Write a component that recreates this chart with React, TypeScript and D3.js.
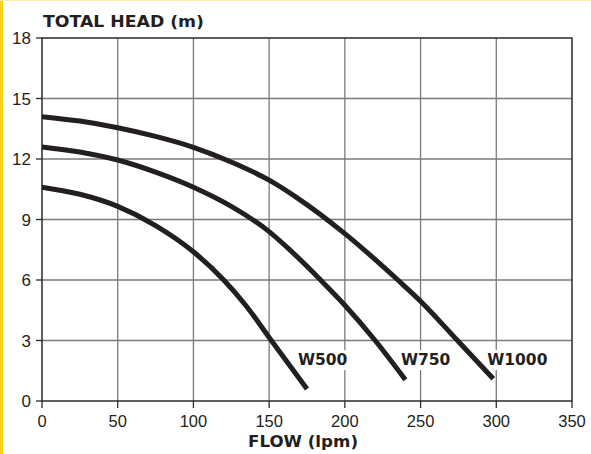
import React, { useRef, useEffect } from 'react';
import * as d3 from 'd3';

// pump curves (flow lpm, head m)
const w500 = [[0, 10.6], [25, 10.25], [50, 9.65], [75, 8.7], [100, 7.4], [120, 6.0], [135, 4.7], [150, 3.15], [175, 0.6]];
const w750 = [[0, 12.6], [25, 12.35], [50, 11.95], [75, 11.35], [100, 10.6], [125, 9.65], [150, 8.4], [165, 7.4], [184, 6.0], [200, 4.75], [220, 3.0], [240, 1.05]];
const w1000 = [[0, 14.1], [25, 13.88], [50, 13.55], [75, 13.12], [100, 12.58], [125, 11.85], [150, 10.95], [168, 10.1], [200, 8.3], [235, 6.0], [250, 4.95], [275, 2.95], [298, 1.1]];

const seriesNames = ['W500', 'W750', 'W1000'];
const seriesData = [w500, w750, w1000];
const labelFlow = [169, 237, 294];
const labelHead = [1.78, 1.78, 1.78];

const xTicks = [0, 50, 100, 150, 200, 250, 300, 350];
const yTicks = [0, 3, 6, 9, 12, 15, 18];

const W = 591;
const H = 454;

const App: React.FC = () => {
  const svgRef = useRef<SVGSVGElement>(null);

  useEffect(() => {
    if (!svgRef.current) return;
    const svg = d3.select(svgRef.current);
    svg.selectAll('*').remove();

    const margin = { top: 38, right: 19, bottom: 53, left: 42 };
    const x = d3.scaleLinear().domain([0, 350]).range([margin.left, W - margin.right]);
    const y = d3.scaleLinear().domain([0, 18]).range([H - margin.bottom, margin.top]);

    svg.append('rect').attr('width', W).attr('height', H).attr('fill', '#fff');
    // yellow page edge
    svg.append('rect').attr('x', 0).attr('y', 0).attr('width', 3).attr('height', H).attr('fill', '#f7d417');
    svg.append('rect').attr('x', 0).attr('y', 0).attr('width', W).attr('height', 1).attr('fill', '#fdf0a6');

    const font = "'Liberation Sans', Arial, sans-serif";
    const bold = "'DejaVu Sans', sans-serif";

    // grid
    const grid = svg.append('g').attr('stroke', '#7a7a7a').attr('stroke-width', 1.3);
    xTicks.slice(1, -1).forEach(t => {
      grid.append('line').attr('x1', x(t)).attr('x2', x(t)).attr('y1', y(0)).attr('y2', y(18));
    });
    yTicks.slice(1, -1).forEach(t => {
      grid.append('line').attr('x1', x(0)).attr('x2', x(350)).attr('y1', y(t)).attr('y2', y(t));
    });

    // frame
    svg.append('rect')
      .attr('x', x(0)).attr('y', y(18))
      .attr('width', x(350) - x(0)).attr('height', y(0) - y(18))
      .attr('fill', 'none').attr('stroke', '#2a2a2a').attr('stroke-width', 1.5);

    // ticks + labels
    const axis = svg.append('g').attr('stroke', '#2a2a2a').attr('stroke-width', 1.3);
    yTicks.forEach(t => {
      axis.append('line').attr('x1', x(0) - 6).attr('x2', x(0)).attr('y1', y(t)).attr('y2', y(t));
      svg.append('text')
        .attr('x', 31).attr('y', y(t)).attr('dy', '0.36em')
        .attr('text-anchor', 'end')
        .attr('font-family', font).attr('font-size', 17).attr('fill', '#231f20')
        .text(t);
    });
    xTicks.forEach(t => {
      axis.append('line').attr('x1', x(t)).attr('x2', x(t)).attr('y1', y(0)).attr('y2', y(0) + 7);
      svg.append('text')
        .attr('x', x(t)).attr('y', 426.5)
        .attr('text-anchor', 'middle')
        .attr('font-family', font).attr('font-size', 16.5).attr('fill', '#231f20')
        .text(t);
    });

    svg.append('text')
      .attr('x', 43).attr('y', 26.5)
      .attr('font-family', bold).attr('font-size', 16).attr('font-weight', 'bold').attr('fill', '#231f20')
      .attr('textLength', 161).attr('lengthAdjust', 'spacingAndGlyphs')
      .text('TOTAL HEAD (m)');
    svg.append('text')
      .attr('x', 248).attr('y', 446.5)
      .attr('font-family', bold).attr('font-size', 15.5).attr('font-weight', 'bold').attr('fill', '#231f20')
      .attr('textLength', 110).attr('lengthAdjust', 'spacingAndGlyphs')
      .text('FLOW (lpm)');

    // series labels with white background that breaks the grid
    seriesNames.forEach((name, i) => {
      const t = svg.append('text')
        .attr('x', x(labelFlow[i])).attr('y', y(labelHead[i]))
        .attr('font-family', bold).attr('font-size', 15.5).attr('font-weight', 'bold').attr('fill', '#231f20')
        .text(name);
      const bb = (t.node() as SVGTextElement).getBBox();
      svg.insert('rect', () => t.node() as any)
        .attr('x', bb.x - 2).attr('y', bb.y - 1)
        .attr('width', bb.width + 4).attr('height', bb.height + 2)
        .attr('fill', '#fff');
    });

    // curves
    const line = d3.line<number[]>()
      .x(d => x(d[0]))
      .y(d => y(d[1]))
      .curve(d3.curveMonotoneX);
    seriesData.forEach(s => {
      svg.append('path')
        .attr('d', line(s))
        .attr('fill', 'none')
        .attr('stroke', '#231f20')
        .attr('stroke-width', 5);
    });
  }, []);

  return (
    <div style={{ position: 'absolute', left: 0, top: 0 }}>
      <svg ref={svgRef} width={W} height={H} style={{ display: 'block' }}></svg>
    </div>
  );
};

export default App;
